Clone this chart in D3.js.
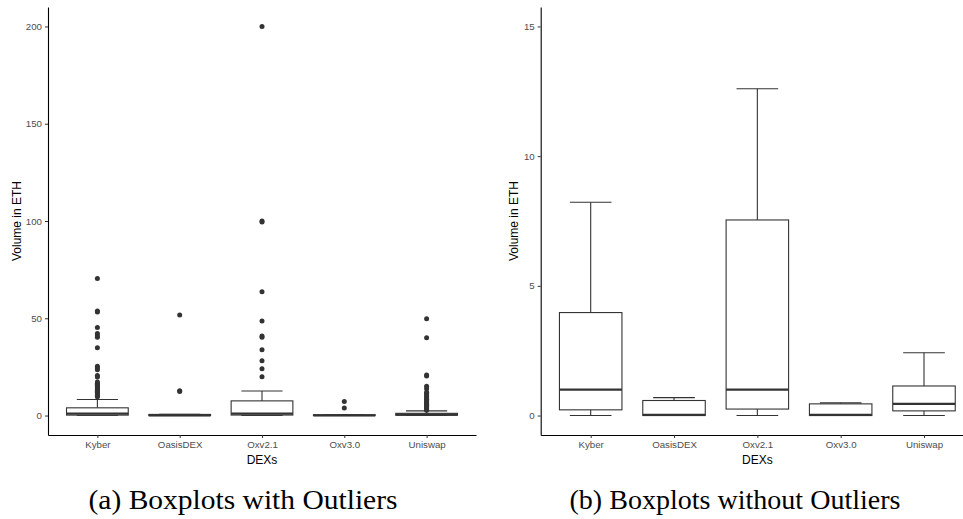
<!DOCTYPE html>
<html>
<head>
<meta charset="utf-8">
<title>DEX volume boxplots</title>
<script src="https://d3js.org/d3.v7.min.js"></script>
<style>
  body { margin: 0; background: #fff; }
  svg { display: block; font-family: "Liberation Sans", Arial, sans-serif; }
  .tick text { fill: #4d4d4d; font-size: 9.7px; }
  .tick line { stroke: #333; }
  .domain { stroke: #000; }
  .axis-title { font-size: 12px; fill: #000; }
  .caption { font-family: "Liberation Serif", "DejaVu Serif", serif; font-size: 28px; fill: #000; }
</style>
</head>
<body>
<svg width="963" height="519"></svg>
<script>
// box statistics per DEX (same data for both panels)
const dexs = ["Kyber", "OasisDEX", "Oxv2.1", "Oxv3.0", "Uniswap"];
const whiskerLow = [0, 0, 0, 0, 0];
const q1 = [0.22, 0.0, 0.25, 0.0, 0.18];
const median = [1.0, 0.03, 1.0, 0.03, 0.45];
const q3 = [3.97, 0.58, 7.54, 0.45, 1.14];
const whiskerHigh = [8.22, 0.69, 12.6, 0.49, 2.42];

// outliers, only drawn in panel (a)
const outliersKyber = [70.5, 53.8, 53.2, 45.2, 42.2, 41, 40.3, 34.9, 25.3, 24.5, 23.6, 20.6, 19.8,
  17.2, 16.5, 16, 15.4, 14.8, 14.2, 13.6, 13, 12.4, 11.8, 11.2, 10.6, 10.1, 9.7];
const outliersOasis = [51.7, 12.8, 12.3];
const outliersOxv21 = [200, 100, 99.5, 63.6, 48.6, 40.9, 40.2, 33.8, 28.2, 24, 20];
const outliersOxv30 = [7.2, 3.9];
const outliersUniswap = [49.8, 40, 20.9, 20.3, 15.1, 13.8, 12, 11.3, 10.5, 9.8, 9, 8.4, 7.7, 7,
  6.4, 5.8, 5.2, 4.6, 4, 3.5, 3, 2.7];
const outliers = [outliersKyber, outliersOasis, outliersOxv21, outliersOxv30, outliersUniswap];

const ticksA = [0, 50, 100, 150, 200];
const ticksB = [0, 5, 10, 15];

const svg = d3.select("svg");

function boxPanel(opts) {
  const g = svg.append("g");

  const x = d3.scalePoint().domain(dexs).range([opts.x0, opts.x1]).padding(0.6);
  const y = d3.scaleLinear().domain(opts.yDomain).range([435, 7]);
  const step = x.step();
  const bw = step * 0.75, cw = step * 0.5;

  const rows = dexs.map((d, i) => ({
    dex: d, lo: whiskerLow[i], q1: q1[i], med: median[i], q3: q3[i], hi: whiskerHigh[i], out: outliers[i]
  }));

  const box = g.selectAll("g.box").data(rows).enter().append("g")
    .attr("class", "box")
    .attr("transform", d => `translate(${x(d.dex)},0)`);

  // whiskers
  box.append("line").attr("y1", d => y(d.q3)).attr("y2", d => y(d.hi));
  box.append("line").attr("y1", d => y(d.q1)).attr("y2", d => y(d.lo));
  box.append("line").attr("x1", -cw / 2).attr("x2", cw / 2).attr("y1", d => y(d.hi)).attr("y2", d => y(d.hi));
  box.append("line").attr("x1", -cw / 2).attr("x2", cw / 2).attr("y1", d => y(d.lo)).attr("y2", d => y(d.lo));
  box.selectAll("line").attr("stroke", "#333").attr("stroke-width", 1.1);

  box.append("rect")
    .attr("x", -bw / 2).attr("width", bw)
    .attr("y", d => y(d.q3))
    .attr("height", d => y(d.q1) - y(d.q3))
    .attr("fill", "#fff").attr("stroke", "#333").attr("stroke-width", 1.1);

  box.append("line")
    .attr("x1", -bw / 2).attr("x2", bw / 2)
    .attr("y1", d => y(d.med)).attr("y2", d => y(d.med))
    .attr("stroke", "#333").attr("stroke-width", 2.2);

  if (opts.showOutliers) {
    box.selectAll("circle").data(d => d.out).enter().append("circle")
      .attr("cx", 0).attr("cy", v => y(v)).attr("r", 2.5)
      .attr("fill", "#333");
  }

  // axes
  g.append("g").attr("transform", "translate(0,435)")
    .call(d3.axisBottom(x).tickSize(3).tickSizeOuter(0).tickPadding(3.5));
  g.append("g").attr("transform", `translate(${opts.x0},0)`)
    .call(d3.axisLeft(y).tickValues(opts.ticks).tickSize(3).tickSizeOuter(0).tickPadding(3));
  g.selectAll(".domain").attr("stroke-width", 1.1);

  g.append("text").attr("class", "axis-title")
    .attr("text-anchor", "middle")
    .attr("x", (opts.x0 + opts.x1) / 2).attr("y", 464)
    .text("DEXs");
  g.append("text").attr("class", "axis-title")
    .attr("text-anchor", "middle")
    .attr("transform", `translate(${opts.yTitleX},221) rotate(-90)`)
    .attr("dy", "0.35em")
    .text("Volume in ETH");

  g.append("text").attr("class", "caption")
    .attr("text-anchor", "middle")
    .attr("x", opts.capX).attr("y", 509)
    .attr("textLength", opts.capLen).attr("lengthAdjust", "spacingAndGlyphs")
    .text(opts.caption);
}

boxPanel({ x0: 48, x1: 476, yDomain: [-10, 210], ticks: ticksA, showOutliers: true,
  yTitleX: 16.7, capX: 243, capLen: 309, caption: "(a) Boxplots with Outliers" });
boxPanel({ x0: 540.7, x1: 974, yDomain: [-0.75, 15.75], ticks: ticksB, showOutliers: false,
  yTitleX: 513.3, capX: 735, capLen: 331, caption: "(b) Boxplots without Outliers" });
</script>
</body>
</html>
